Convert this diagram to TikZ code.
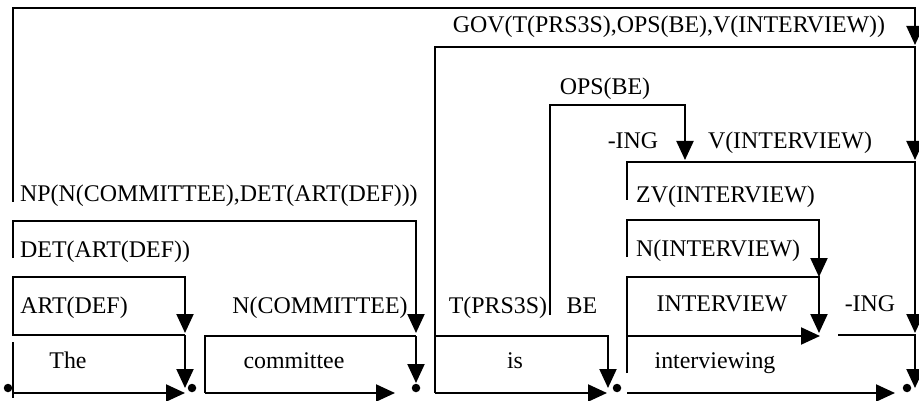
\documentclass[tikz,border=0pt]{standalone}
\usepackage{fontspec}
\setmainfont{Liberation Serif}
\usetikzlibrary{arrows.meta}
\begin{document}
\begin{tikzpicture}[x=1pt,y=-1pt,
  ln/.style={line width=2.1pt, line join=miter},
  arr/.style={ln, -{Triangle[length=19pt,width=17pt]}},
  lbl/.style={inner sep=0pt, anchor=base, font=\fontsize{23.9}{28}\selectfont},
  lbll/.style={lbl, anchor=base west},
  dotn/.style={circle, fill, inner sep=0pt, minimum size=8.5pt}]
\fill[white] (0,0) rectangle (919,401);
\useasboundingbox (0,0) rectangle (919,401);
% coordinates
\coordinate (o1) at (13,202); \coordinate (o2) at (13,8); \coordinate (o3) at (915,8); \coordinate (o4) at (915,45);
\coordinate (g1) at (435,393); \coordinate (g2) at (435,47); \coordinate (g3) at (915,47); \coordinate (g4) at (915,160);
\coordinate (z1) at (627,200); \coordinate (z2) at (627,162); \coordinate (z3) at (915,162); \coordinate (z4) at (915,333);
\coordinate (i1) at (838,335); \coordinate (i2) at (915,335); \coordinate (i3) at (915,388);
\coordinate (p1) at (550,315); \coordinate (p2) at (550,105); \coordinate (p3) at (685,105); \coordinate (p4) at (685,160);
\coordinate (n1) at (627,257); \coordinate (n2) at (627,220); \coordinate (n3) at (819,220); \coordinate (n4) at (819,277);
\coordinate (v1) at (627,373); \coordinate (v2) at (627,277); \coordinate (v3) at (819,277); \coordinate (v4) at (819,333);
\coordinate (v5) at (627,336); \coordinate (v6) at (820,336);
\coordinate (w1) at (627,393); \coordinate (w2) at (895,393);
\coordinate (s1) at (435,336); \coordinate (s2) at (608,336); \coordinate (s3) at (608,388);
\coordinate (s4) at (435,393); \coordinate (s5) at (607,393);
\coordinate (c1) at (205,393); \coordinate (c2) at (205,336); \coordinate (c3) at (416,336);
\coordinate (c4) at (395,393); \coordinate (c5) at (416,383);
\coordinate (d1) at (13,258); \coordinate (d2) at (13,221); \coordinate (d3) at (416,221); \coordinate (d4) at (416,333);
\coordinate (a0) at (185,335); \coordinate (a1) at (13,335); \coordinate (a2) at (13,277); \coordinate (a3) at (185,277);
\coordinate (a4) at (185,333); \coordinate (a5) at (185,388);
\coordinate (t1) at (13,342); \coordinate (t2) at (13,398); \coordinate (t3) at (13,393); \coordinate (t4) at (185,393);
% connectors
\draw[arr] (o1) -- (o2) -- (o3) -- (o4);
\draw[arr] (g1) -- (g2) -- (g3) -- (g4);
\draw[arr] (z1) -- (z2) -- (z3) -- (z4);
\draw[arr] (i1) -- (i2) -- (i3);
\draw[arr] (p1) -- (p2) -- (p3) -- (p4);
\draw[arr] (n1) -- (n2) -- (n3) -- (n4);
\draw[arr] (v1) -- (v2) -- (v3) -- (v4);
\draw[arr] (v5) -- (v6);
\draw[arr] (w1) -- (w2);
\draw[arr] (s1) -- (s2) -- (s3);
\draw[arr] (s4) -- (s5);
\draw[ln] (c1) -- (c2) -- (c3);
\draw[arr] (c1) -- (c4);
\draw[arr] (c3) -- (c5);
\draw[arr] (d1) -- (d2) -- (d3) -- (d4);
\draw[arr] (a0) -- (a1) -- (a2) -- (a3) -- (a4);
\draw[arr] (a0) -- (a5);
\draw[ln] (t1) -- (t2);
\draw[arr] (t3) -- (t4);
% dots
\node[dotn] (dt1) at (8,388) {};
\node[dotn] (dt2) at (192,388) {};
\node[dotn] (dt3) at (416,388) {};
\node[dotn] (dt4) at (617,388) {};
\node[dotn] (dt5) at (907,388) {};
% labels
\node[lbl] (lgov) at (669,33) {GOV(T(PRS3S),OPS(BE),V(INTERVIEW))};
\node[lbl] (lops) at (605,95) {OPS(BE)};
\node[lbl] (ling1) at (633,149) {-ING};
\node[lbl] (lvi) at (790,149) {V(INTERVIEW)};
\node[lbll] (lnp) at (20,201) {NP(N(COMMITTEE),DET(ART(DEF)))};
\node[lbll] (lzv) at (636,203) {ZV(INTERVIEW)};
\node[lbll] (ldet) at (20,257) {DET(ART(DEF))};
\node[lbll] (lni) at (636,256) {N(INTERVIEW)};
\node[lbl] (lart) at (74,313) {ART(DEF)};
\node[lbl] (lnc) at (320,313) {N(COMMITTEE)};
\node[lbl] (lt) at (498,313) {T(PRS3S)};
\node[lbl] (lbe) at (582,313) {BE};
\node[lbl] (lint) at (722,311) {INTERVIEW};
\node[lbl] (ling2) at (870,311) {-ING};
\node[lbl] (wthe) at (68,368) {The};
\node[lbl] (wcom) at (294,368) {committee};
\node[lbl] (wis) at (515,368) {is};
\node[lbl] (wint) at (715,368) {interviewing};
\end{tikzpicture}
\end{document}
